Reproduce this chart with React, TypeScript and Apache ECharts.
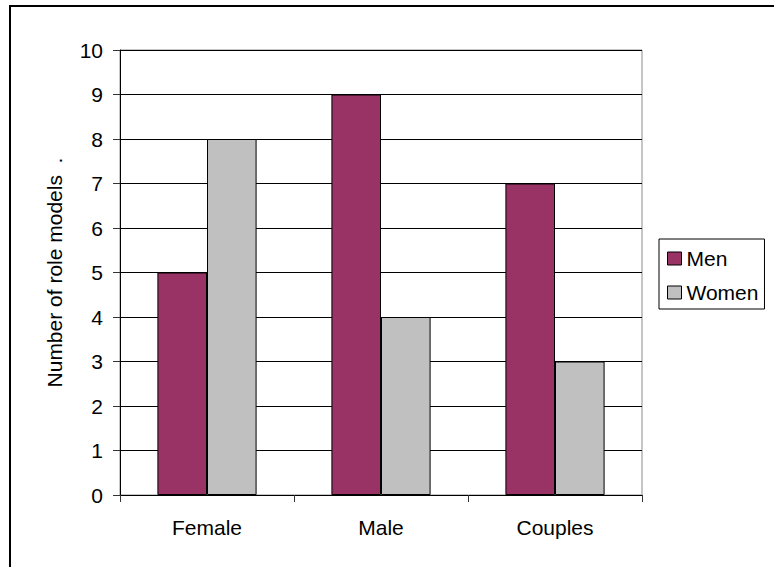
import React, { useEffect, useRef } from "react";
import * as echarts from "echarts";

const categories = ["Female", "Male", "Couples"];
const menValues = [5, 9, 7];
const womenValues = [8, 4, 3];
const seriesNames = ["Men", "Women"];
const yAxisTitle = "Number of role models  .";

const FONT = "'Liberation Sans', Arial, sans-serif";
const FS = 21;

export default function App() {
  const ref = useRef<HTMLDivElement>(null);
  useEffect(() => {
    if (!ref.current) return;
    const chart = echarts.init(ref.current, undefined, { renderer: "svg" });
    chart.setOption({
      animation: false,
      backgroundColor: "#ffffff",
      textStyle: { fontFamily: FONT, color: "#000" },
      graphic: [
        {
          type: "rect",
          shape: { x: 10, y: 6, width: 900, height: 800 },
          style: { fill: "none", stroke: "#000", lineWidth: 2 },
          silent: true,
          z: 100,
        },
      ],
      grid: {
        left: 120,
        top: 50,
        width: 522,
        height: 445,
        show: true,
        borderColor: "#8c8c8c",
        borderWidth: 1,
        containLabel: false,
      },
      legend: {
        orient: "vertical",
        left: 659,
        top: 239,
        data: seriesNames,
        padding: [9, 6, 6, 8],
        itemGap: 13,
        itemWidth: 14,
        itemHeight: 13,
        icon: "rect",
        borderColor: "#000",
        borderWidth: 1,
        itemStyle: { borderColor: "#000", borderWidth: 1 },
        textStyle: { fontFamily: FONT, fontSize: FS, color: "#000", lineHeight: 21 },
      },
      xAxis: {
        type: "category",
        data: categories,
        axisLine: { show: true, lineStyle: { color: "#000", width: 1 } },
        axisTick: { show: true, length: 7, lineStyle: { color: "#333" } },
        axisLabel: { fontFamily: FONT, fontSize: FS, color: "#000", margin: 22 },
        splitLine: { show: false },
      },
      yAxis: {
        type: "value",
        min: 0,
        max: 10,
        interval: 1,
        name: yAxisTitle,
        nameLocation: "middle",
        nameGap: 55,
        nameTextStyle: { fontFamily: FONT, fontSize: FS, color: "#000" },
        axisLine: { show: true, lineStyle: { color: "#000", width: 1 } },
        axisTick: { show: true, length: 7, lineStyle: { color: "#333" } },
        axisLabel: { fontFamily: FONT, fontSize: FS, color: "#000", margin: 17 },
        splitLine: { show: true, lineStyle: { color: "#000", width: 1 } },
      },
      series: [
        {
          name: seriesNames[0],
          type: "bar",
          data: menValues,
          barGap: "0%",
          barCategoryGap: "43%",
          itemStyle: { color: "#993366", borderColor: "#000", borderWidth: 1 },
        },
        {
          name: seriesNames[1],
          type: "bar",
          data: womenValues,
          barGap: "0%",
          barCategoryGap: "43%",
          itemStyle: { color: "#C0C0C0", borderColor: "#000", borderWidth: 1 },
        },
      ],
    });
    return () => chart.dispose();
  }, []);
  return (
    <div
      ref={ref}
      style={{ position: "absolute", left: 0, top: 0, width: 774, height: 567 }}
    />
  );
}
